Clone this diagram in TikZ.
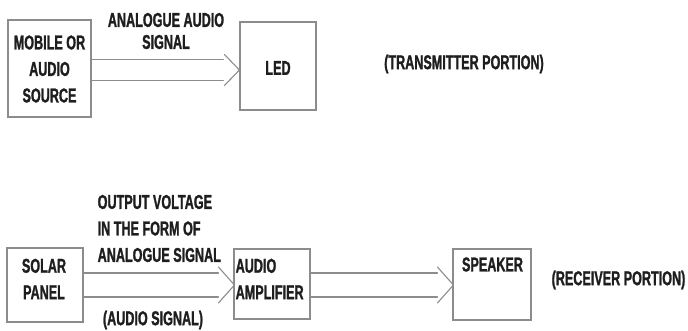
\documentclass[tikz,border=0pt]{standalone}
\usepackage{fontspec}
\setmainfont{Liberation Sans}[FakeStretch=0.63]
\newfontfamily\heavy{Liberation Sans}[FakeStretch=0.63,FakeBold=1.2]
\usetikzlibrary{calc}
\definecolor{edge}{HTML}{8C8C8C}
\definecolor{ink}{HTML}{1E1E1E}
\tikzset{
  box/.style={draw=edge, line width=1.1pt, rectangle, inner sep=0pt},
  txt/.style={text=ink, font=\heavy\bfseries\fontsize{20}{26.5}\selectfont, inner sep=0pt},
  arr/.style={draw=edge, line width=1.1pt, line cap=round, line join=miter}
}
\begin{document}
\begin{tikzpicture}[x=1pt,y=-1pt]
\useasboundingbox (0,0) rectangle (688,331);

% ---- transmitter ----
\node[box, minimum width=83pt, minimum height=97pt] (mob) at (49.5,68.5) {};
\node[txt, align=center] (mobt) at (49.5,69) {MOBILE OR\\AUDIO\\SOURCE};
\node[box, minimum width=76pt, minimum height=88pt] (led) at (278,66) {};
\node[txt] (ledt) at (278,68) {LED};
\node[txt, align=center, font=\heavy\bfseries\fontsize{20}{22}\selectfont] (lab1) at (166,31) {ANALOGUE AUDIO\\SIGNAL};
\node[txt] (tx) at (464,64) {(TRANSMITTER PORTION)};

\coordinate (t1) at ($(led.west)+(0,4)$);
\coordinate (s1) at (mob.east |- t1);
\draw[arr] ($(s1)+(0,-10.5)$) -- ($(t1)+(-16,-10.5)$);
\draw[arr] ($(s1)+(0,10.5)$) -- ($(t1)+(-16,10.5)$);
\draw[arr] ($(t1)+(-15,-15.5)$) -- (t1) -- ($(t1)+(-15,15.5)$);

% ---- receiver ----
\node[box, minimum width=76pt, minimum height=74pt] (sol) at (45,285) {};
\node[txt, align=center] (solt) at (44,279) {SOLAR\\PANEL};
\node[box, minimum width=76pt, minimum height=70pt] (amp) at (272,284) {};
\node[txt, align=left, anchor=west] (ampt) at (235.5,279) {AUDIO\\AMPLIFIER};
\node[box, minimum width=78pt, minimum height=71pt] (spk) at (492,284.5) {};
\node[txt] (spkt) at (492.5,264.5) {SPEAKER};
\node[txt, align=left, anchor=west] (lab2) at (97.5,228.5) {OUTPUT VOLTAGE\\IN THE FORM OF\\ANALOGUE SIGNAL};
\node[txt] (lab3) at (153,320) {(AUDIO SIGNAL)};
\node[txt] (rx) at (618.5,280) {(RECEIVER PORTION)};

\coordinate (t2) at ($(amp.west)+(1,1)$);
\coordinate (s2) at (sol.east |- t2);
\draw[arr] ($(s2)+(0,-12)$) -- ($(t2)+(-16,-12)$);
\draw[arr] ($(s2)+(0,12)$) -- ($(t2)+(-16,12)$);
\draw[arr] ($(t2)+(-16,-18)$) -- (t2) -- ($(t2)+(-16,18)$);

\coordinate (t3) at ($(spk.west)+(1,0.5)$);
\coordinate (s3) at (amp.east |- t3);
\draw[arr] ($(s3)+(0,-12)$) -- ($(t3)+(-16,-12)$);
\draw[arr] ($(s3)+(0,12)$) -- ($(t3)+(-16,12)$);
\draw[arr] ($(t3)+(-16,-18)$) -- (t3) -- ($(t3)+(-16,18)$);
\end{tikzpicture}
\end{document}
